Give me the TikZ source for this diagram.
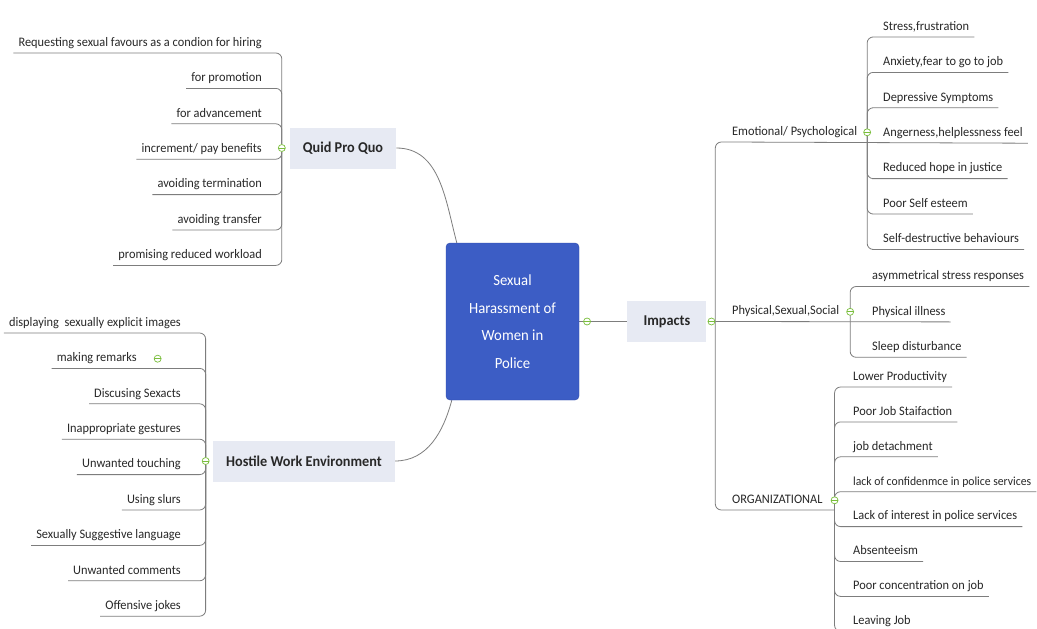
\documentclass[tikz,border=0pt]{standalone}
\usepackage{fontspec}
\setmainfont{Carlito}[FakeStretch=0.95]
\usetikzlibrary{positioning}
\definecolor{coreblue}{RGB}{60,93,197}
\definecolor{coreedge}{RGB}{48,76,170}
\definecolor{topicbg}{RGB}{231,234,243}
\definecolor{linkgray}{RGB}{125,125,125}
\definecolor{foldgreen}{RGB}{122,190,60}
\definecolor{inkgray}{RGB}{40,40,40}
\pgfdeclarelayer{bg}
\pgfsetlayers{bg,main}
\tikzset{
	core/.style={rectangle, rounded corners=4pt, fill=coreblue, draw=coreedge,
		text=white, minimum width=133pt, minimum height=157pt, align=center,
		font=\fontsize{15.5}{27.5}\selectfont},
	topic/.style={rectangle, fill=topicbg, text=inkgray, minimum height=41pt,
		inner xsep=13pt, font=\fontsize{15}{17}\selectfont\bfseries},
	leaf/.style={text=inkgray, inner xsep=5pt, inner ysep=3.5pt, text height=9pt,
		text depth=3pt, font=\fontsize{13}{15}\selectfont},
	fold/.style={circle, draw=foldgreen, fill=white, line width=0.7pt,
		minimum size=7pt, inner sep=0pt,
		path picture={\draw[foldgreen, line width=0.7pt] (path picture bounding box.west) -- (path picture bounding box.east);}},
	link/.style={draw=linkgray, line width=0.8pt, rounded corners=6pt},
	nextl/.style={below left=16pt and 0pt of #1},
	nextr/.style={below right=16pt and 0pt of #1},
	nexto/.style={below right=15.5pt and 0pt of #1}
}

\begin{document}
\begin{tikzpicture}[x=1pt, y=-1pt]
	\begin{pgfonlayer}{bg}
		\fill[white] (0,0) rectangle (1037,629);
	\end{pgfonlayer}
	\useasboundingbox (0,0) rectangle (1037,629);

	% centre and main topics
	\node[core] (centre) at (512.5,321.5) {Sexual\\Harassment of\\Women in\\Police};
	\node[topic, minimum width=79pt, right=48pt of centre] (impacts) {Impacts};
	\node[topic] (quid) at (343,148) {Quid Pro Quo};
	\node[topic] (hostile) at (304,461) {Hostile Work Environment};

	\node[fold, right=4pt of centre] (cm) {};
	\node[fold, right=1pt of impacts] (im) {};
	\node[fold, left=4pt of quid] (qm) {};
	\node[fold, left=3.5pt of hostile] (hm) {};

	% quid pro quo
	\node[leaf, anchor=south east] (q1) at (267,53) {Requesting sexual favours as a condion for hiring};
	\node[leaf, nextl=q1.south east] (q2) {for promotion};
	\node[leaf, nextl=q2.south east] (q3) {for advancement};
	\node[leaf, nextl=q3.south east] (q4) {increment/ pay benefits};
	\node[leaf, nextl=q4.south east] (q5) {avoiding termination};
	\node[leaf, nextl=q5.south east] (q6) {avoiding transfer};
	\node[leaf, nextl=q6.south east] (q7) {promising reduced workload};

	% hostile work environment
	\node[leaf, anchor=south east] (h1) at (186,333) {displaying~ sexually explicit images};
	\node[leaf, nextl=h1.south east] (h2) {making remarks\kern44pt};
	\node[fold, left=24.5pt of h2.east] (h2m) {};
	\node[leaf, nextl=h2.south east] (h3) {Discusing Sexacts};
	\node[leaf, nextl=h3.south east] (h4) {Inappropriate gestures};
	\node[leaf, nextl=h4.south east] (h5) {Unwanted touching};
	\node[leaf, nextl=h5.south east] (h6) {Using slurs};
	\node[leaf, nextl=h6.south east] (h7) {Sexually Suggestive language};
	\node[leaf, nextl=h7.south east] (h8) {Unwanted comments};
	\node[leaf, nextl=h8.south east] (h9) {Offensive jokes};

	% impacts
	\node[leaf, anchor=south west] (emo) at (727,142) {Emotional/ Psychological};
	\node[leaf, anchor=south west] (phy) at (727,321.5) {Physical,Sexual,Social};
	\node[leaf, anchor=south west] (org) at (727,510) {ORGANIZATIONAL};
	\node[fold, right=1pt of emo] (emk) {};
	\node[fold, right=2pt of phy] (pm) {};
	\node[fold, right=3pt of org] (om) {};

	\node[leaf, anchor=south west] (e1) at (878,37) {Stress,frustration};
	\node[leaf, nextr=e1.south west] (e2) {Anxiety,fear to go to job};
	\node[leaf, nextr=e2.south west] (e3) {Depressive Symptoms};
	\node[leaf, nextr=e3.south west] (e4) {Angerness,helplessness feel};
	\node[leaf, nextr=e4.south west] (e5) {Reduced hope in justice};
	\node[leaf, nextr=e5.south west] (e6) {Poor Self esteem};
	\node[leaf, nextr=e6.south west] (e7) {Self-destructive behaviours};

	\node[leaf, anchor=south west] (p1) at (867,286.5) {asymmetrical stress responses};
	\node[leaf, nextr=p1.south west] (p2) {Physical illness};
	\node[leaf, nextr=p2.south west] (p3) {Sleep disturbance};

	\node[leaf, anchor=south west] (o1) at (848,387) {Lower Productivity};
	\node[leaf, nexto=o1.south west] (o2) {Poor Job Staifaction};
	\node[leaf, nexto=o2.south west] (o3) {job detachment};
	\node[leaf, nexto=o3.south west, font=\fontsize{12.3}{15}\selectfont] (o4) {lack of confidenmce in police services};
	\node[leaf, nexto=o4.south west] (o5) {Lack of interest in police services};
	\node[leaf, nexto=o5.south west] (o6) {Absenteeism};
	\node[leaf, nexto=o6.south west] (o7) {Poor concentration on job};
	\node[leaf, nexto=o7.south west] (o8) {Leaving Job};

	% connectors
	\begin{pgfonlayer}{bg}
		\draw[link] (quid.east) to[out=0, in=105] ([xshift=11pt]centre.north west);
		\draw[link] (hostile.east) to[out=0, in=-105] ([xshift=6pt]centre.south west);
		\draw[link] (centre.east) -- (impacts.west);

		\draw[link] (qm.north) |- (q1.south east) -- (q1.south west);
		\draw[link] (qm.north) |- (q2.south east) -- (q2.south west);
		\draw[link] (qm.north) |- (q3.south east) -- (q3.south west);
		\draw[link] (qm.south) |- (q4.south east) -- (q4.south west);
		\draw[link] (qm.south) |- (q5.south east) -- (q5.south west);
		\draw[link] (qm.south) |- (q6.south east) -- (q6.south west);
		\draw[link] (qm.south) |- (q7.south east) -- (q7.south west);

		\draw[link] (hm.north) |- (h1.south east) -- (h1.south west);
		\draw[link] (hm.north) |- (h2.south east) -- (h2.south west);
		\draw[link] (hm.north) |- (h3.south east) -- (h3.south west);
		\draw[link] (hm.north) |- (h4.south east) -- (h4.south west);
		\draw[link] (hm.south) |- (h5.south east) -- (h5.south west);
		\draw[link] (hm.south) |- (h6.south east) -- (h6.south west);
		\draw[link] (hm.south) |- (h7.south east) -- (h7.south west);
		\draw[link] (hm.south) |- (h8.south east) -- (h8.south west);
		\draw[link] (hm.south) |- (h9.south east) -- (h9.south west);

		\draw[link] (im.east) |- (emo.south west) -- (e4.south east);
		\draw[link] (im.east) -- (phy.south west) -- (p2.south east);
		\draw[link] (im.east) |- (org.south west) -- (om |- org.south);

		\draw[link] (emk |- emo.south) |- (e1.south west) -- (e1.south east);
		\draw[link] (emk |- emo.south) |- (e2.south west) -- (e2.south east);
		\draw[link] (emk |- emo.south) |- (e3.south west) -- (e3.south east);
		\draw[link] (emk |- emo.south) |- (e5.south west) -- (e5.south east);
		\draw[link] (emk |- emo.south) |- (e6.south west) -- (e6.south east);
		\draw[link] (emk |- emo.south) |- (e7.south west) -- (e7.south east);

		\draw[link] (pm |- phy.south) |- (p1.south west) -- (p1.south east);
		\draw[link] (pm |- phy.south) |- (p3.south west) -- (p3.south east);

		\draw[link] (om |- org.south) |- (o1.south west) -- (o1.south east);
		\draw[link] (om |- org.south) |- (o2.south west) -- (o2.south east);
		\draw[link] (om |- org.south) |- (o3.south west) -- (o3.south east);
		\draw[link] (om |- org.south) |- (o4.south west) -- (o4.south east);
		\draw[link] (om |- org.south) |- (o5.south west) -- (o5.south east);
		\draw[link] (om |- org.south) |- (o6.south west) -- (o6.south east);
		\draw[link] (om |- org.south) |- (o7.south west) -- (o7.south east);
		\draw[link] (om |- org.south) |- (o8.south west) -- (o8.south east);
	\end{pgfonlayer}
\end{tikzpicture}
\end{document}
